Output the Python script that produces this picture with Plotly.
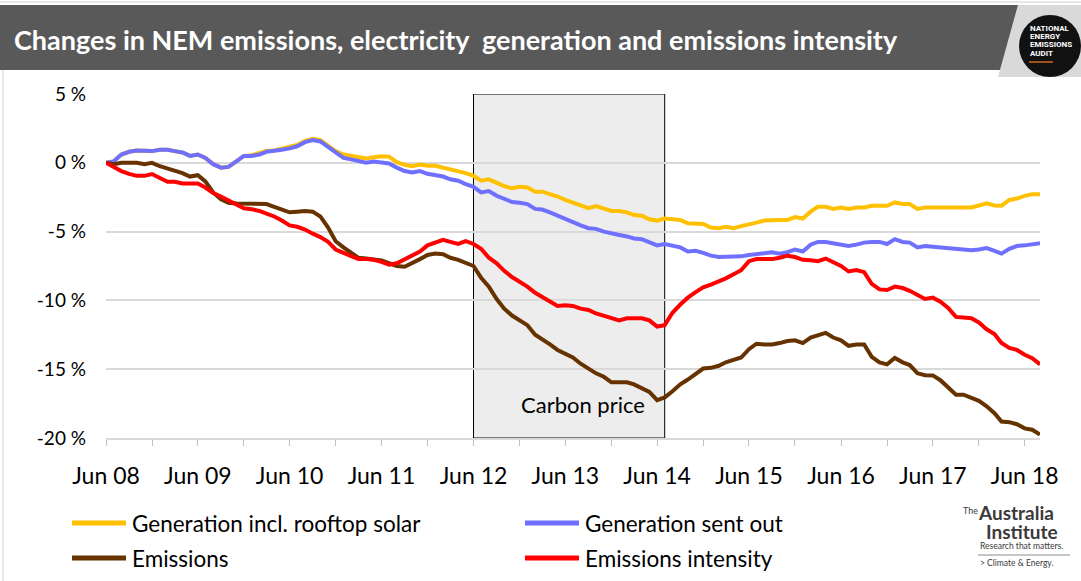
import pandas as pd
import plotly.graph_objects as go

FONT = "Lato"
YELLOW = "#FFC000"
BLUE = "#7070FF"
BROWN = "#663300"
RED = "#FF0000"
GRID = "#D9D9D9"

# monthly, Jun 2008 .. Aug 2018, % change since Jun 2008
months = pd.date_range("2008-06-01", "2018-08-01", freq="MS")

gen_rooftop = [
    0, 0.1, 0.6, 0.8, 0.9, 0.85, 0.85, 0.95, 0.95, 0.85, 0.75, 0.5, 0.6, 0.35, -0.1, -0.35,
    -0.3, 0.1, 0.5, 0.55, 0.7, 0.85, 0.9, 1.05, 1.15, 1.3, 1.6, 1.75, 1.65, 1.25, 0.85, 0.6,
    0.5, 0.45, 0.32, 0.4, 0.48, 0.45, 0.05, -0.15, -0.25, -0.12, -0.22, -0.22, -0.35, -0.5, -0.6, -0.75,
    -0.95, -1.3, -1.2, -1.45, -1.7, -1.85, -1.75, -1.8, -2.1, -2.1, -2.25, -2.45, -2.7, -2.9, -3.1, -3.3,
    -3.15, -3.35, -3.5, -3.5, -3.6, -3.8, -3.85, -4.1, -4.2, -4.05, -4.1, -4.15, -4.4, -4.4, -4.45, -4.7,
    -4.75, -4.65, -4.75, -4.6, -4.5, -4.35, -4.2, -4.15, -4.15, -4.15, -3.95, -4.05, -3.55, -3.2, -3.2, -3.35,
    -3.25, -3.35, -3.25, -3.25, -3.12, -3.12, -3.12, -2.88, -3.0, -3.0, -3.35, -3.25, -3.25, -3.25, -3.25, -3.25,
    -3.25, -3.25, -3.1, -2.95, -3.1, -3.12, -2.7, -2.6, -2.4, -2.28, -2.28,
]

gen_sent_out = [
    0, 0.1, 0.6, 0.8, 0.9, 0.85, 0.85, 0.95, 0.95, 0.85, 0.75, 0.5, 0.6, 0.35, -0.1, -0.35,
    -0.3, 0.1, 0.5, 0.5, 0.6, 0.8, 0.85, 0.95, 1.05, 1.2, 1.5, 1.65, 1.55, 1.15, 0.75, 0.35,
    0.25, 0.15, 0.0, 0.1, 0.05, -0.05, -0.35, -0.6, -0.7, -0.6, -0.8, -0.9, -1.0, -1.2, -1.3, -1.55,
    -1.75, -2.15, -2.05, -2.4, -2.65, -2.85, -2.9, -3.0, -3.35, -3.4, -3.6, -3.85, -4.1, -4.3, -4.55, -4.75,
    -4.8, -5.0, -5.15, -5.25, -5.35, -5.5, -5.55, -5.8, -6.0, -5.9, -6.0, -6.15, -6.45, -6.4, -6.55, -6.75,
    -6.85, -6.85, -6.85, -6.8, -6.7, -6.65, -6.55, -6.5, -6.6, -6.5, -6.3, -6.45, -5.95, -5.75, -5.75, -5.85,
    -5.9, -6.05, -5.95, -5.8, -5.75, -5.75, -5.9, -5.55, -5.75, -5.8, -6.15, -6.05, -6.1, -6.15, -6.2, -6.2,
    -6.25, -6.35, -6.3, -6.2, -6.4, -6.6, -6.25, -6.05, -6.0, -5.95, -5.85,
]

emissions = [
    0, -0.1, 0, 0, 0, -0.1, 0, -0.25, -0.4, -0.55, -0.75, -1.0, -0.9, -1.35, -2.15, -2.65,
    -2.9, -2.95, -2.95, -2.95, -2.95, -3.0, -3.2, -3.4, -3.6, -3.55, -3.5, -3.55, -3.9, -4.7, -5.7, -6.15,
    -6.55, -6.9, -6.95, -7.0, -7.1, -7.3, -7.5, -7.55, -7.3, -7.0, -6.7, -6.6, -6.65, -6.9, -7.05, -7.3,
    -7.5, -8.35, -9.0, -9.9, -10.6, -11.1, -11.45, -11.8, -12.5, -12.8, -13.2, -13.6, -13.9, -14.15, -14.6, -15.0,
    -15.3, -15.55, -15.95, -15.95, -15.95, -16.1, -16.35, -16.65, -17.25, -17.05, -16.6, -16.1, -15.75, -15.35, -14.95, -14.9,
    -14.75, -14.5, -14.3, -14.15, -13.55, -13.15, -13.2, -13.2, -13.1, -12.95, -12.9, -13.1, -12.7, -12.5, -12.36, -12.7,
    -12.9, -13.3, -13.2, -13.2, -14.1, -14.5, -14.65, -14.18, -14.5, -14.7, -15.3, -15.44, -15.45, -15.8, -16.3, -16.85,
    -16.85, -17.05, -17.3, -17.7, -18.2, -18.8, -18.85, -19.0, -19.3, -19.4, -19.75,
]

emissions_intensity = [
    0, -0.3, -0.6, -0.8, -0.95, -0.95, -0.82, -1.1, -1.38, -1.38, -1.5, -1.5, -1.5, -1.8, -2.2, -2.45,
    -2.75, -3.0, -3.3, -3.37, -3.5, -3.7, -3.9, -4.2, -4.55, -4.65, -4.85, -5.15, -5.4, -5.75, -6.3, -6.55,
    -6.8, -7.0, -7.0, -7.05, -7.2, -7.4, -7.3, -7.0, -6.7, -6.45, -6.0, -5.8, -5.6, -5.75, -5.9, -5.7,
    -5.9, -6.25, -6.9, -7.3, -7.85, -8.3, -8.65, -9.0, -9.45, -9.75, -10.0, -10.4, -10.35, -10.4, -10.6, -10.7,
    -10.95, -11.1, -11.3, -11.45, -11.3, -11.3, -11.3, -11.45, -11.9, -11.8, -10.9, -10.3, -9.8, -9.4, -9.05, -8.85,
    -8.65, -8.4, -8.1, -7.8, -7.15, -7.0, -7.0, -7.0, -6.9, -6.75, -6.85, -7.05, -7.08, -7.15, -6.96, -7.2,
    -7.5, -7.9, -7.8, -7.95, -8.8, -9.2, -9.25, -9.0, -9.1, -9.3, -9.6, -9.9, -9.8, -10.1, -10.55, -11.2,
    -11.25, -11.3, -11.6, -12.1, -12.45, -13.1, -13.45, -13.6, -13.95, -14.2, -14.65,
]

series = [
    ("Generation incl. rooftop solar", gen_rooftop, YELLOW),
    ("Generation sent out", gen_sent_out, BLUE),
    ("Emissions", emissions, BROWN),
    ("Emissions intensity", emissions_intensity, RED),
]

y_ticks = [5, 0, -5, -10, -15, -20]
y_labels = ["5 %", "0 %", "-5 %", "-10 %", "-15 %", "-20 %"]
carbon_price = ("2012-06-01", "2014-07-01")

W, H = 1081, 581
L, R, T, B = 106, 41, 94, 143
PW, PH = W - L - R, H - T - B


def px(x):
    return (x - L) / PW


def py(y):
    return 1 - (y - T) / PH


fig = go.Figure()
for name, values, color in series:
    fig.add_trace(
        go.Scatter(x=months, y=values, mode="lines", name=name,
                   line=dict(color=color, width=4), showlegend=False)
    )

shapes = [
    # carbon price period
    dict(type="rect", xref="x", yref="y", x0=carbon_price[0], x1=carbon_price[1], y0=-20, y1=5,
         fillcolor="#EDEDED", line=dict(color="black", width=1), layer="below"),
    # header bar
    dict(type="line", xref="paper", yref="paper", x0=px(0), x1=px(W), y0=py(2), y1=py(2),
         line=dict(color="#D0D0D0", width=1)),
    dict(type="line", xref="paper", yref="paper", x0=px(3), x1=px(3), y0=py(70), y1=py(H),
         line=dict(color="#D0D0D0", width=1)),
    dict(type="path", xref="paper", yref="paper", line=dict(width=0), fillcolor="#D9D9D9",
         path=f"M {px(1018)},{py(5)} L {px(W)},{py(5)} L {px(W)},{py(77)} L {px(998)},{py(77)} Z"),
    dict(type="path", xref="paper", yref="paper", line=dict(width=0), fillcolor="#595959",
         path=f"M {px(0)},{py(5)} L {px(1018)},{py(5)} L {px(1000)},{py(70)} L {px(0)},{py(70)} Z"),
    dict(type="circle", xref="paper", yref="paper", x0=px(1019), x1=px(1081), y0=py(15), y1=py(77),
         fillcolor="#111111", line=dict(width=0)),
    dict(type="line", xref="paper", yref="paper", x0=px(1029), x1=px(1053), y0=py(62), y1=py(62),
         line=dict(color="#D2691E", width=1.5)),
    # logo divider
    dict(type="line", xref="paper", yref="paper", x0=px(978), x1=px(1070), y0=py(555), y1=py(555),
         line=dict(color="#8C8C8C", width=1)),
]

annotations = [
    dict(text="<b>Changes in NEM emissions, electricity  generation and emissions intensity</b>",
         xref="paper", yref="paper", x=px(12), y=py(40), xanchor="left", yanchor="middle",
         showarrow=False, font=dict(family=FONT, size=27, color="white")),
    dict(text="Carbon price", xref="x", yref="y", x="2013-08-10", y=-17.55,
         showarrow=False, font=dict(family=FONT, size=22, color="black")),
]

for i, word in enumerate(["NATIONAL", "ENERGY", "EMISSIONS", "AUDIT"]):
    annotations.append(dict(text=f"<b>{word}</b>", xref="paper", yref="paper", x=px(1028), y=py(29 + 8 * i),
                            xanchor="left", yanchor="middle", showarrow=False,
                            font=dict(family="Roboto", size=8, color="white")))

# legend drawn by hand
legend_pos = [(72, 523), (525, 523), (72, 558), (525, 558)]
for (name, _, color), (lx, ly) in zip(series, legend_pos):
    shapes.append(dict(type="line", xref="paper", yref="paper", x0=px(lx), x1=px(lx + 54),
                       y0=py(ly), y1=py(ly), line=dict(color=color, width=5)))
    annotations.append(dict(text=name, xref="paper", yref="paper", x=px(lx + 58), y=py(ly),
                            xanchor="left", yanchor="middle", showarrow=False,
                            font=dict(family=FONT, size=22.5, color="black")))

# The Australia Institute logo
logo_texts = [
    ("The", 961, 510, 9),
    ("<b>Australia</b>", 976, 512, 19),
    ("<b>Institute</b>", 984, 531, 19),
    ("Research that matters.", 978, 546, 8.5),
    ("&gt; Climate &amp; Energy.", 978, 563, 8.5),
]
for text, lx, ly, size in logo_texts:
    annotations.append(dict(text=text, xref="paper", yref="paper", x=px(lx), y=py(ly),
                            xanchor="left", yanchor="middle", showarrow=False,
                            font=dict(family=FONT, size=size, color="#3A3A3A")))

fig.update_layout(
    width=W,
    height=H,
    margin=dict(l=L, r=R, t=T, b=B),
    paper_bgcolor="white",
    plot_bgcolor="white",
    font=dict(family=FONT, color="black"),
    shapes=shapes,
    annotations=annotations,
    showlegend=False,
)
fig.update_xaxes(
    type="date",
    range=[months[0], months[-1]],
    tick0="2008-06-01",
    dtick="M12",
    tickformat="%b %y",
    ticks="outside",
    ticklen=6,
    tickcolor="#BFBFBF",
    ticklabelstandoff=10,
    minor=dict(dtick="M6", tick0="2008-06-01", ticks="outside", ticklen=6, tickcolor="#BFBFBF"),
    showgrid=False,
    showline=True,
    linecolor=GRID,
    linewidth=2,
    tickfont=dict(family=FONT, size=23),
)
fig.update_yaxes(
    range=[-20, 5],
    tickvals=y_ticks,
    ticktext=y_labels,
    gridcolor=GRID,
    gridwidth=1.5,
    zeroline=False,
    ticklabelstandoff=19,
    tickfont=dict(family=FONT, size=19),
)

fig.write_html(
    "out.html",
    config={"displayModeBar": False},
    post_script="document.body.style.margin='0';",
)
